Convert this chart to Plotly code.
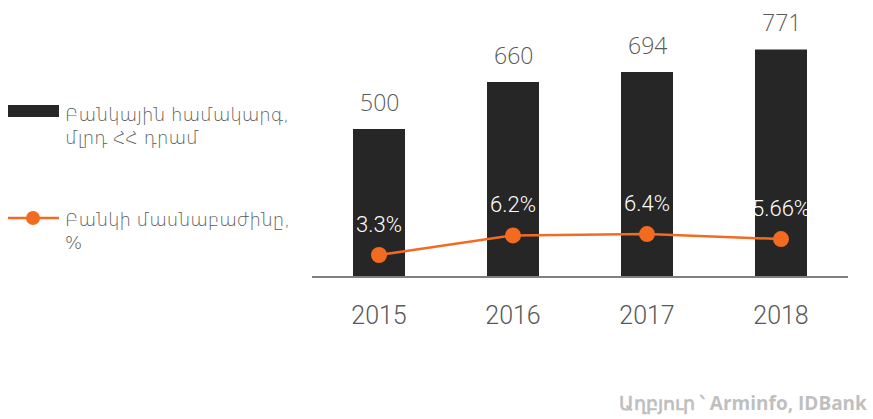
import plotly.graph_objects as go

years = ["2015", "2016", "2017", "2018"]
system_assets = [500, 660, 694, 771]          # Բանկային համակարգ, մլրդ ՀՀ դրամ
bank_share = [3.3, 6.2, 6.4, 5.66]            # Բանկի մասնաբաժինը, %
share_labels = ["3.3%", "6.2%", "6.4%", "5.66%"]

bar_name = "Բանկային համակարգ,<br>մլրդ ՀՀ դրամ"
line_name = "Բանկի մասնաբաժինը,<br>%"
source_text = "Աղբյուր ՝ Arminfo, IDBank"

BAR_COLOR = "#262626"
LINE_COLOR = "#F26B21"
TEXT_GRAY = "#595959"

W, H = 873, 419
ML, MR, MT, MB = 312, 25, 0, 143
PW, PH = W - ML - MR, H - MT - MB


def px_x(p):
    return (p - ML) / PW


def px_y(p):
    return (MT + PH - p) / PH


fig = go.Figure()
fig.add_trace(go.Bar(
    x=years, y=system_assets, name=bar_name,
    marker=dict(color=BAR_COLOR, line=dict(width=0)),
    showlegend=False, hoverinfo="x+y",
))
fig.add_trace(go.Scatter(
    x=years, y=bank_share, name=line_name, yaxis="y2",
    mode="lines+markers",
    line=dict(color=LINE_COLOR, width=2.5),
    marker=dict(color=LINE_COLOR, size=16),
    showlegend=False,
))

annotations = []
for i, v in enumerate(system_assets):
    annotations.append(dict(
        x=i, y=v, xref="x", yref="y", text=str(v), showarrow=False,
        yanchor="bottom", yshift=9,
        font=dict(family="Open Sans", size=23, color=TEXT_GRAY, weight=300),
    ))
for i, (v, t) in enumerate(zip(bank_share, share_labels)):
    annotations.append(dict(
        x=i, y=v, xref="x", yref="y2", text=t, showarrow=False,
        yanchor="middle", yshift=31,
        font=dict(family="Roboto", size=22, color="#FFFFFF", weight=300),
    ))

# custom legend
leg_font = dict(family="DejaVu Sans", size=18, color=TEXT_GRAY, weight=200)
annotations.append(dict(
    x=px_x(63), y=px_y(126), xref="paper", yref="paper", text=bar_name,
    showarrow=False, xanchor="left", yanchor="middle", align="left",
    font=leg_font,
))
annotations.append(dict(
    x=px_x(63), y=px_y(231), xref="paper", yref="paper", text=line_name,
    showarrow=False, xanchor="left", yanchor="middle", align="left",
    font=leg_font,
))
annotations.append(dict(
    x=px_x(869), y=px_y(403), xref="paper", yref="paper", text="<b>" + source_text + "</b>",
    showarrow=False, xanchor="right", yanchor="middle",
    font=dict(family="Open Sans", size=19, color="#BFBFBF"),
))

shapes = [
    dict(type="rect", xref="paper", yref="paper",
         x0=px_x(8), x1=px_x(59), y0=px_y(117), y1=px_y(105),
         fillcolor=BAR_COLOR, line=dict(width=0)),
    dict(type="line", xref="paper", yref="paper",
         x0=px_x(8), x1=px_x(59), y0=px_y(218), y1=px_y(218),
         line=dict(color=LINE_COLOR, width=2.5)),
    dict(type="circle", xref="paper", yref="paper",
         x0=px_x(26), x1=px_x(40), y0=px_y(225), y1=px_y(211),
         fillcolor=LINE_COLOR, line=dict(width=0)),
]

fig.update_layout(
    width=W, height=H,
    margin=dict(l=ML, r=MR, t=MT, b=MB, pad=0),
    paper_bgcolor="white", plot_bgcolor="white",
    bargap=0.612,
    annotations=annotations,
    shapes=shapes,
    xaxis=dict(
        type="category", range=[-0.5, len(years) - 0.5], autorange=False,
        showgrid=False, zeroline=False,
        showline=True, linecolor="#7F7F7F", linewidth=1.5,
        ticks="", ticklabelstandoff=16,
        tickfont=dict(family="Roboto", size=25, color=TEXT_GRAY, weight=300),
    ),
    yaxis=dict(range=[0, 939], autorange=False, visible=False,
               showgrid=False, zeroline=False),
    yaxis2=dict(range=[0.2, 41], autorange=False, overlaying="y", visible=False,
                showgrid=False, zeroline=False),
    showlegend=False,
)

fig.write_html("out.html",
               config={"displayModeBar": False},
               post_script="document.body.style.margin='0';document.body.style.overflow='hidden';")
